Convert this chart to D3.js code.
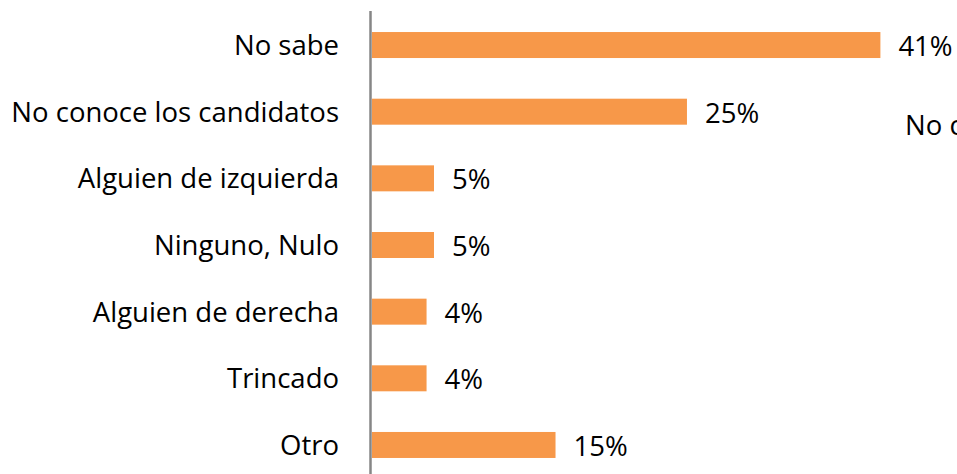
<!DOCTYPE html>
<meta charset="utf-8">
<title>Bars</title>
<style>
body { margin: 0; background: #fff; }
text { font-family: "Open Sans", sans-serif; fill: #000; }
</style>
<body>
<script src="https://d3js.org/d3.v7.min.js"></script>
<script>

var categories = ["No sabe", "No conoce los candidatos", "Alguien de izquierda", "Ninguno, Nulo",
                  "Alguien de derecha", "Trincado", "Otro"];
var values = [41, 25.4, 5, 5, 4.4, 4.4, 14.8]; // percent

var svg = d3.select("body")
  .append("svg")
  .attr("width", 957)
  .attr("height", 474);

var x = d3.scaleLinear()
  .domain([0, 50])
  .range([372, 992]);

var y = d3.scaleBand()
  .domain(categories)
  .range([11.7, 478.3])
  .paddingInner(0.61)
  .paddingOuter(0.305);

svg.selectAll("rect.bar")
  .data(categories)
  .enter().append("rect")
    .attr("class", "bar")
    .attr("x", x(0))
    .attr("y", function(d) { return y(d); })
    .attr("width", function(d, i) { return x(values[i]) - x(0); })
    .attr("height", y.bandwidth())
    .attr("fill", "#f79849");

// category axis line
svg.append("line")
  .attr("x1", 370.5).attr("x2", 370.5)
  .attr("y1", 11).attr("y2", 474)
  .attr("stroke", "#868686")
  .attr("stroke-width", 2.5);

svg.selectAll("text.cat")
  .data(categories)
  .enter().append("text")
    .attr("class", "cat")
    .attr("x", 339)
    .attr("y", function(d) { return y(d) + y.bandwidth() / 2 + 10; })
    .attr("text-anchor", "end")
    .attr("font-size", 27.5)
    .text(function(d) { return d; });

var fmt = function(v) { return Math.round(v) + "%"; };

svg.selectAll("text.val")
  .data(categories)
  .enter().append("text")
    .attr("class", "val")
    .attr("x", function(d, i) { return x(values[i]) + 18; })
    .attr("y", function(d) { return y(d) + y.bandwidth() / 2 + 11; })
    .attr("font-size", 27.5)
    .text(function(d, i) { return fmt(values[i]); });

// text cut by the right edge, as in the source
svg.append("text")
  .attr("x", 905)
  .attr("y", 135)
  .attr("font-size", 27.5)
  .text("No contesta");

</script>
</body>
